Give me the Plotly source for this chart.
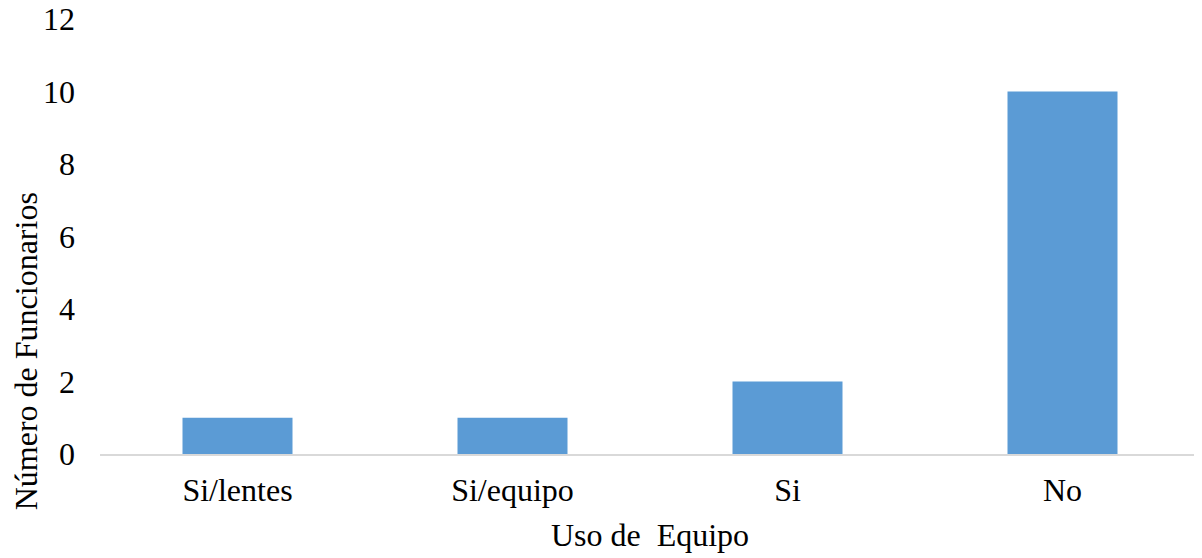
import plotly.graph_objects as go

# Datos
categorias = ["Si/lentes", "Si/equipo", "Si", "No"]
funcionarios = [1, 1, 2, 10]
ticks_y = [0, 2, 4, 6, 8, 10, 12]

font_serif = "Liberation Serif"

bar = go.Bar(x=categorias, y=funcionarios, width=0.4,
             marker=dict(color="#5B9BD5", line=dict(width=0)))

layout = go.Layout(
    width=1202, height=558,
    paper_bgcolor="white", plot_bgcolor="white",
    # the page body adds an 8px offset, so margins are reduced by 8
    margin=dict(l=92, r=10, t=11, b=112),
    font=dict(family=font_serif, size=32, color="black"),
    showlegend=False,
    xaxis=dict(
        title=dict(text="Uso de  Equipo", font=dict(size=32), standoff=16),
        showline=True, linecolor="#D9D9D9", linewidth=2,
        ticks="", showgrid=False, zeroline=False, automargin=False,
        tickfont=dict(size=32), ticklabelstandoff=7,
    ),
    yaxis=dict(
        range=[0, 12], tickvals=ticks_y,
        showgrid=False, zeroline=False, showline=False, automargin=False,
        ticks="", tickfont=dict(size=32), ticklabelstandoff=24,
        ticklabeloverflow="allow",
    ),
    annotations=[dict(
        text="Número de Funcionarios", textangle=-90,
        xref="paper", yref="paper", x=-0.0677, y=0.235,
        xanchor="center", yanchor="middle", showarrow=False,
        font=dict(size=32),
    )],
)

fig = go.Figure(data=[bar], layout=layout)
fig.write_html("out.html")
